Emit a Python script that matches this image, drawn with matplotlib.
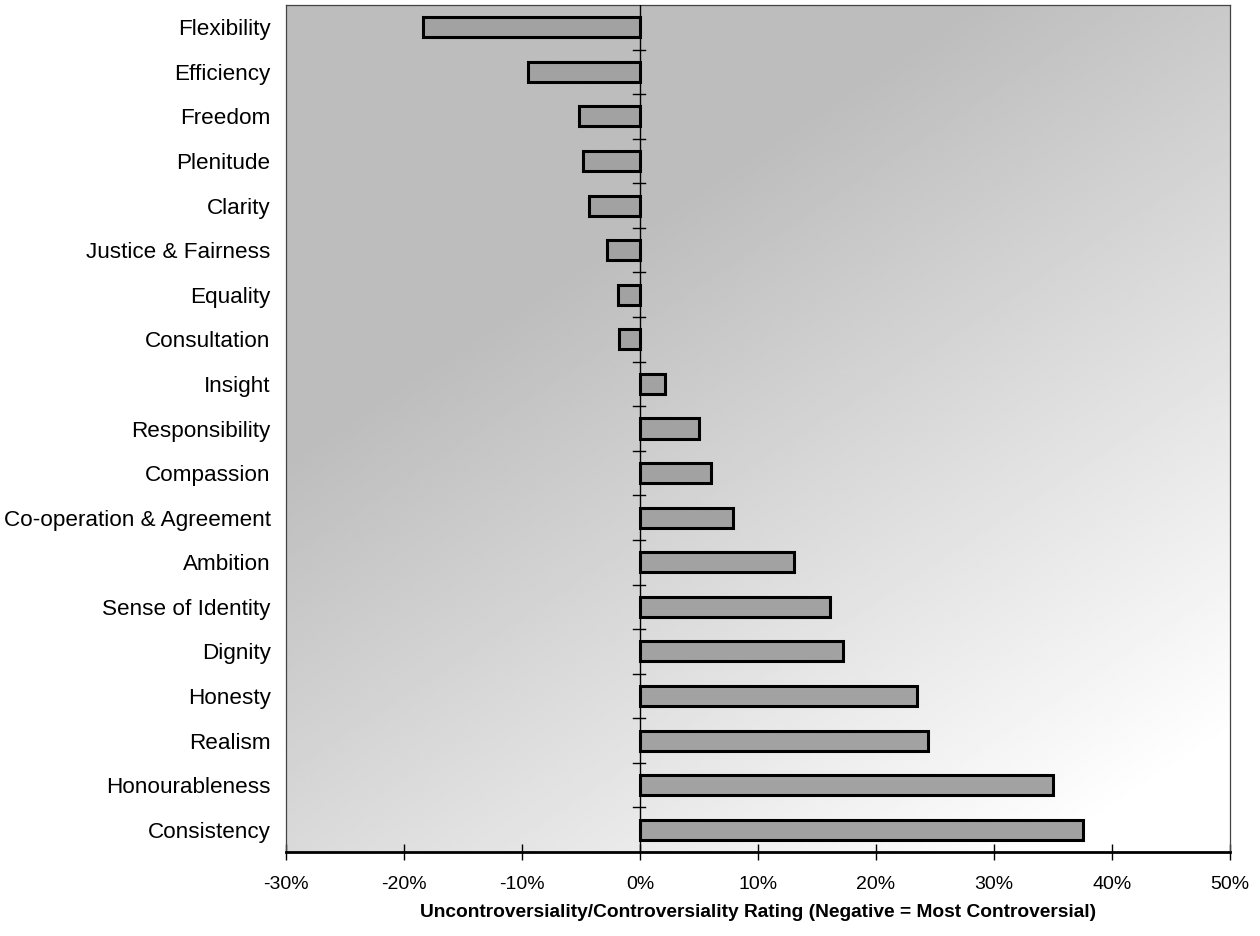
import numpy as np
import matplotlib
matplotlib.use("Agg")
import matplotlib.pyplot as plt
from matplotlib.ticker import FuncFormatter

plt.rcParams['font.family'] = ['Liberation Sans', 'DejaVu Sans']

values_names = [
    "Flexibility", "Efficiency", "Freedom", "Plenitude", "Clarity",
    "Justice & Fairness", "Equality", "Consultation", "Insight",
    "Responsibility", "Compassion", "Co-operation & Agreement", "Ambition",
    "Sense of Identity", "Dignity", "Honesty", "Realism", "Honourableness",
    "Consistency",
]
ratings = [
    -18.4, -9.5, -5.2, -4.8, -4.3, -2.8, -1.9, -1.8, 2.1, 5.0, 6.0, 7.9,
    13.1, 16.1, 17.2, 23.5, 24.4, 35.0, 37.6,
]
x_ticks = [-30, -20, -10, 0, 10, 20, 30, 40, 50]

fig = plt.figure(figsize=(12.6, 9.36), dpi=100)
ax = fig.add_axes([0.227, 0.0897, 0.749, 0.905])

n = len(values_names)
ypos = np.arange(n)

# gradient fill behind the plot area
gx, gy = np.meshgrid(np.linspace(0, 1, 300), np.linspace(1, 0, 300))
t = 0.55 * gx + 0.75 * (1 - gy)
shade = 0.74 + 0.26 * np.clip((t - 0.40) / 0.80, 0, 1)
ax.imshow(shade, cmap="gray", vmin=0, vmax=1, aspect="auto",
          extent=[x_ticks[0], x_ticks[-1], n - 0.5, -0.5], zorder=0,
          interpolation="bilinear")

ax.barh(ypos, ratings, height=0.45, color="#a2a2a2", edgecolor="black",
        linewidth=2.2, zorder=3)

ax.set_xlim(x_ticks[0], x_ticks[-1])
ax.set_ylim(n - 0.5, -0.5)

# category axis at zero with separators between categories
ax.axvline(0, color="black", linewidth=1, zorder=4)
for b in np.arange(0.5, n - 1, 1.0):
    ax.plot([-0.6, 0.4], [b, b], color="black", linewidth=1, zorder=4)

ax.set_xticks(x_ticks)
ax.xaxis.set_major_formatter(FuncFormatter(lambda v, p: f"{v:.0f}%"))
ax.set_yticks(ypos)
ax.set_yticklabels(values_names)
ax.tick_params(axis="y", length=0, pad=11, labelsize=16.2)
ax.tick_params(axis="x", direction="inout", length=11, width=1, pad=12,
               labelsize=14)

for side in ["top", "left", "right"]:
    ax.spines[side].set_linewidth(0.9)
    ax.spines[side].set_color("#444444")
ax.spines["bottom"].set_linewidth(2)

ax.set_xlabel("Uncontroversiality/Controversiality Rating (Negative = Most Controversial)",
              fontsize=13.8, fontweight="bold", labelpad=8)

fig.savefig("out.png", dpi=100)
